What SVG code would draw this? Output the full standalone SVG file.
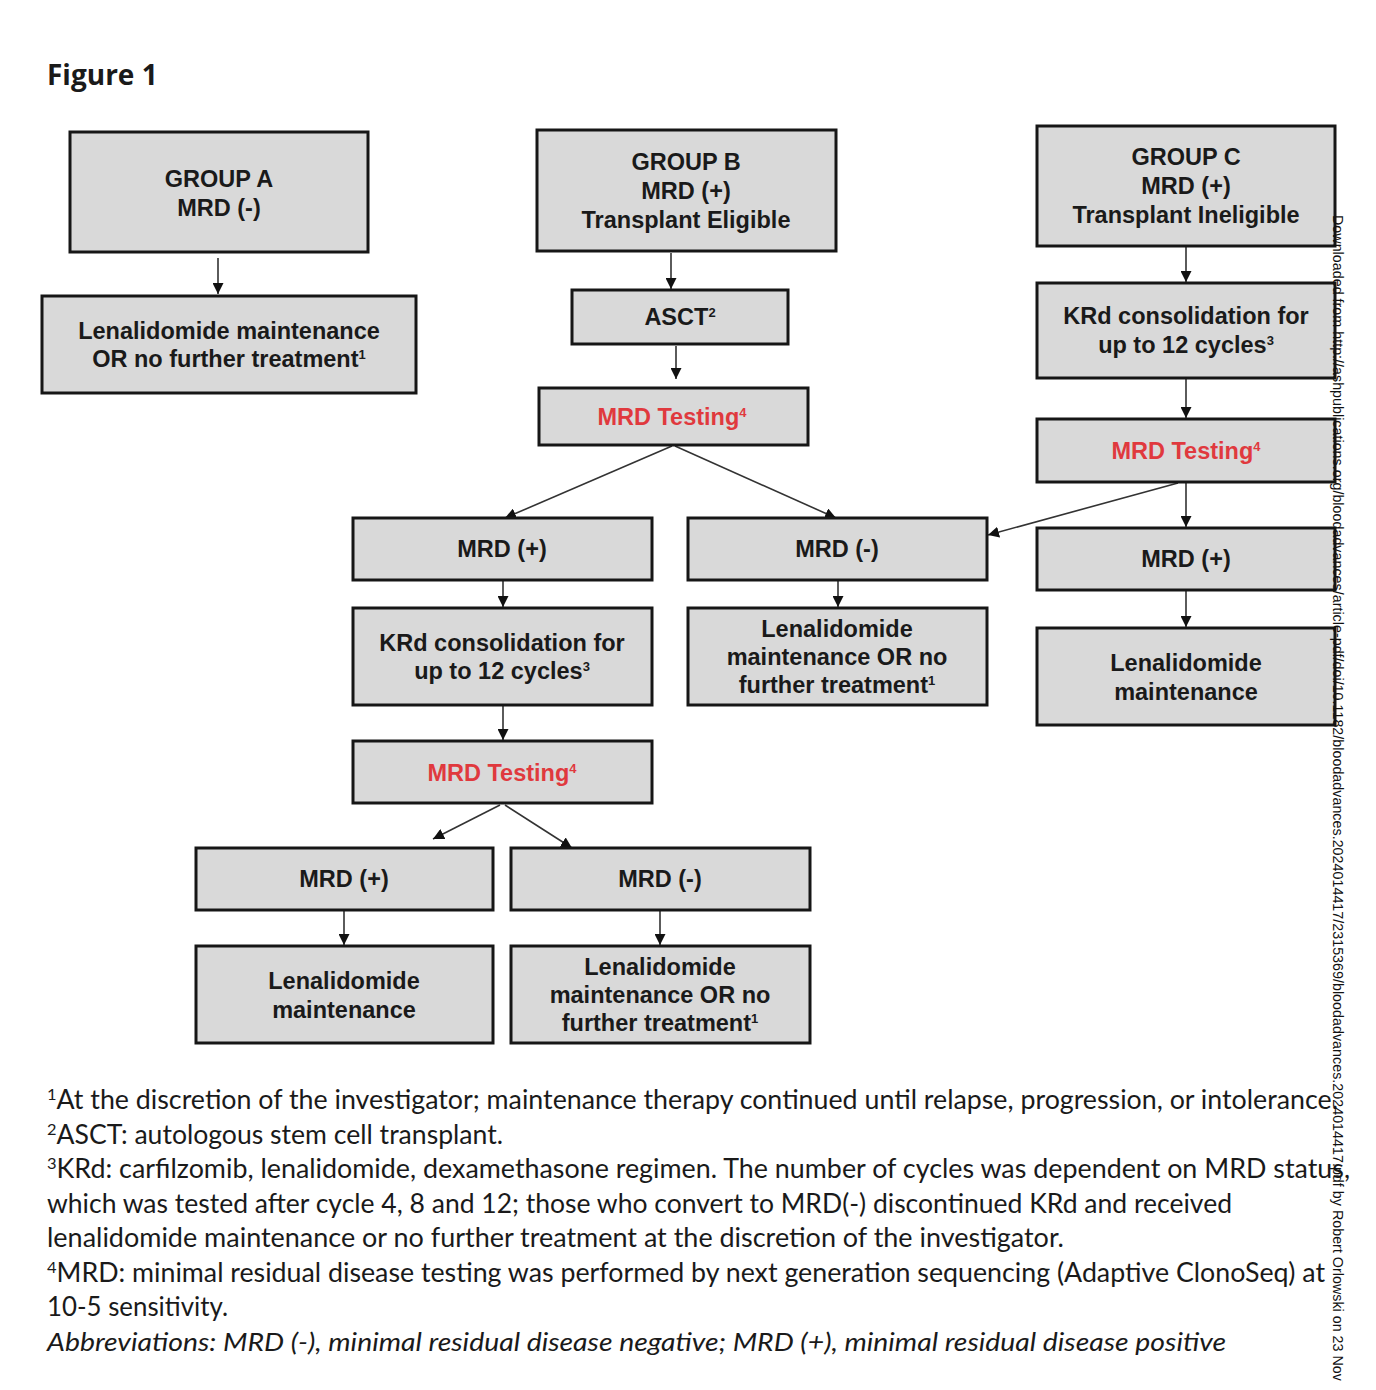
<svg xmlns="http://www.w3.org/2000/svg" width="1376" height="1390" viewBox="0 0 1376 1390">
<defs>
<marker id="ah" markerUnits="userSpaceOnUse" markerWidth="11" markerHeight="11" refX="10" refY="5" orient="auto" viewBox="0 0 10 10">
<path d="M0,0 L10,5 L0,10 z" fill="#111"/>
</marker>
</defs>
<style>
.box{fill:#d9d9d9;stroke:#161616;stroke-width:3}
.t{font-family:"Liberation Sans",Arial,sans-serif;font-weight:bold;font-size:23.5px;fill:#1a1a1a;text-anchor:middle}
.r{fill:#e0393e}
.sup{font-size:13px}
.c{stroke:#333;stroke-width:1.6;fill:none;marker-end:url(#ah)}
.fn{font-family:Lato,"Open Sans",sans-serif;font-size:26px;fill:#1a1a1a}
.fs{font-size:16px}
.wm{font-family:"Liberation Sans",Arial,sans-serif;font-size:14.5px;fill:#111}
</style>
<rect width="1376" height="1390" fill="#fff"/>
<text x="47" y="85" font-family="Open Sans,Lato,sans-serif" font-weight="bold" font-size="28" fill="#1a1a1a">Figure 1</text>

<g id="connectors">
<line class="c" x1="218" y1="258" x2="218" y2="294"/>
<line class="c" x1="671" y1="253" x2="671" y2="289"/>
<line class="c" x1="676" y1="346" x2="676" y2="379"/>
<line class="c" x1="672" y1="446" x2="505" y2="518"/>
<line class="c" x1="675" y1="446" x2="836" y2="518"/>
<line class="c" x1="1186" y1="247" x2="1186" y2="282"/>
<line class="c" x1="1186" y1="379" x2="1186" y2="418"/>
<line class="c" x1="1186" y1="483" x2="1186" y2="527"/>
<line class="c" x1="1186" y1="591" x2="1186" y2="627"/>
<line class="c" x1="1178" y1="483" x2="988" y2="535"/>
<line class="c" x1="503" y1="581" x2="503" y2="607"/>
<line class="c" x1="838" y1="581" x2="838" y2="607"/>
<line class="c" x1="503" y1="706" x2="503" y2="740"/>
<line class="c" x1="500" y1="805" x2="433" y2="839"/>
<line class="c" x1="505" y1="805" x2="572" y2="848"/>
<line class="c" x1="344" y1="911" x2="344" y2="945"/>
<line class="c" x1="660" y1="911" x2="660" y2="945"/>
</g>

<g id="groupA">
<rect class="box" x="70" y="132" width="298" height="120"/>
<text class="t" x="219" y="187">GROUP A</text>
<text class="t" x="219" y="216">MRD (-)</text>
</g>
<g id="lenA">
<rect class="box" x="42" y="296" width="374" height="97"/>
<text class="t" x="229" y="339">Lenalidomide  maintenance</text>
<text class="t" x="229" y="367">OR no further treatment<tspan class="sup" dy="-8">1</tspan></text>
</g>

<g id="groupB">
<rect class="box" x="537" y="130" width="299" height="121"/>
<text class="t" x="686" y="170">GROUP B</text>
<text class="t" x="686" y="199">MRD (+)</text>
<text class="t" x="686" y="228">Transplant Eligible</text>
</g>
<g id="asct">
<rect class="box" x="572" y="290" width="216" height="54"/>
<text class="t" x="680" y="325">ASCT<tspan class="sup" dy="-8">2</tspan></text>
</g>
<g id="mrdTestB">
<rect class="box" x="539" y="388" width="269" height="57"/>
<text class="t r" x="672" y="425">MRD Testing<tspan class="sup" dy="-8">4</tspan></text>
</g>
<g id="mrdPosB">
<rect class="box" x="353" y="518" width="299" height="62"/>
<text class="t" x="502" y="557">MRD (+)</text>
</g>
<g id="mrdNegB">
<rect class="box" x="688" y="518" width="299" height="62"/>
<text class="t" x="837" y="557">MRD (-)</text>
</g>
<g id="krdB">
<rect class="box" x="353" y="608" width="299" height="97"/>
<text class="t" x="502" y="651">KRd consolidation for</text>
<text class="t" x="502" y="679">up to 12 cycles<tspan class="sup" dy="-8">3</tspan></text>
</g>
<g id="lenB">
<rect class="box" x="688" y="608" width="299" height="97"/>
<text class="t" x="837" y="637">Lenalidomide</text>
<text class="t" x="837" y="665">maintenance OR no</text>
<text class="t" x="837" y="693">further treatment<tspan class="sup" dy="-8">1</tspan></text>
</g>
<g id="mrdTestB2">
<rect class="box" x="353" y="741" width="299" height="62"/>
<text class="t r" x="502" y="781">MRD Testing<tspan class="sup" dy="-8">4</tspan></text>
</g>
<g id="mrdPosB2">
<rect class="box" x="196" y="848" width="297" height="62"/>
<text class="t" x="344" y="887">MRD (+)</text>
</g>
<g id="mrdNegB2">
<rect class="box" x="511" y="848" width="299" height="62"/>
<text class="t" x="660" y="887">MRD (-)</text>
</g>
<g id="lenB2L">
<rect class="box" x="196" y="946" width="297" height="97"/>
<text class="t" x="344" y="989">Lenalidomide</text>
<text class="t" x="344" y="1018">maintenance</text>
</g>
<g id="lenB2R">
<rect class="box" x="511" y="946" width="299" height="97"/>
<text class="t" x="660" y="975">Lenalidomide</text>
<text class="t" x="660" y="1003">maintenance OR no</text>
<text class="t" x="660" y="1031">further treatment<tspan class="sup" dy="-8">1</tspan></text>
</g>

<g id="groupC">
<rect class="box" x="1037" y="126" width="298" height="120"/>
<text class="t" x="1186" y="165">GROUP C</text>
<text class="t" x="1186" y="194">MRD (+)</text>
<text class="t" x="1186" y="223">Transplant Ineligible</text>
</g>
<g id="krdC">
<rect class="box" x="1037" y="283" width="298" height="95"/>
<text class="t" x="1186" y="324">KRd consolidation for</text>
<text class="t" x="1186" y="353">up to 12 cycles<tspan class="sup" dy="-8">3</tspan></text>
</g>
<g id="mrdTestC">
<rect class="box" x="1037" y="419" width="298" height="63"/>
<text class="t r" x="1186" y="459">MRD Testing<tspan class="sup" dy="-8">4</tspan></text>
</g>
<g id="mrdPosC">
<rect class="box" x="1037" y="528" width="298" height="62"/>
<text class="t" x="1186" y="567">MRD (+)</text>
</g>
<g id="lenC">
<rect class="box" x="1037" y="628" width="298" height="97"/>
<text class="t" x="1186" y="671">Lenalidomide</text>
<text class="t" x="1186" y="700">maintenance</text>
</g>

<g id="footnotes">
<text class="fn" x="47" y="1109" textLength="1291" lengthAdjust="spacingAndGlyphs"><tspan class="fs" dy="-9">1</tspan><tspan dy="9">At the discretion of the investigator; maintenance therapy continued until relapse, progression, or intolerance.</tspan></text>
<text class="fn" x="47" y="1144" textLength="456" lengthAdjust="spacingAndGlyphs"><tspan class="fs" dy="-9">2</tspan><tspan dy="9">ASCT: autologous stem cell transplant.</tspan></text>
<text class="fn" x="47" y="1178" textLength="1303" lengthAdjust="spacingAndGlyphs"><tspan class="fs" dy="-9">3</tspan><tspan dy="9">KRd: carfilzomib, lenalidomide, dexamethasone regimen. The number of cycles was dependent on MRD status,</tspan></text>
<text class="fn" x="47" y="1213" textLength="1185" lengthAdjust="spacingAndGlyphs">which was tested after cycle 4, 8 and 12; those who convert to MRD(-) discontinued KRd and received</text>
<text class="fn" x="47" y="1247" textLength="1017" lengthAdjust="spacingAndGlyphs">lenalidomide maintenance or no further treatment at the discretion of the investigator.</text>
<text class="fn" x="47" y="1282" textLength="1278" lengthAdjust="spacingAndGlyphs"><tspan class="fs" dy="-9">4</tspan><tspan dy="9">MRD: minimal residual disease testing was performed by next generation sequencing (Adaptive ClonoSeq) at</tspan></text>
<text class="fn" x="47" y="1316" textLength="181" lengthAdjust="spacingAndGlyphs">10-5 sensitivity.</text>
<text class="fn" x="47" y="1351" font-style="italic" textLength="1179" lengthAdjust="spacingAndGlyphs">Abbreviations: MRD (-), minimal residual disease negative; MRD (+), minimal residual disease positive</text>
</g>

<text class="wm" transform="translate(1333,215) rotate(90)" textLength="1166" lengthAdjust="spacingAndGlyphs">Downloaded from http://ashpublications.org/bloodadvances/article-pdf/doi/10.1182/bloodadvances.2024014417/2315369/bloodadvances.2024014417.pdf by Robert Orlowski on 23 Nov</text>
</svg>
